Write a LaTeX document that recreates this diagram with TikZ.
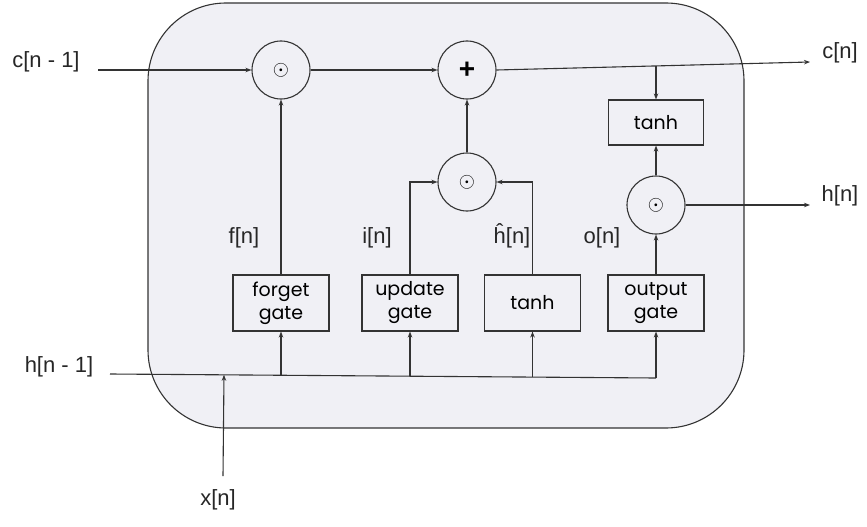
\documentclass[tikz,border=0pt]{standalone}
\usepackage{fontspec}
\setmainfont{Liberation Sans}
\newfontfamily\boxfont{Poppins}
\usetikzlibrary{arrows.meta}
\definecolor{bgc}{HTML}{F0F0F5}
\definecolor{ln}{HTML}{333333}
\begin{document}
\begin{tikzpicture}[x=1pt,y=-1pt,
  every node/.style={inner sep=0},
  lbl/.style={font=\fontsize{22}{26}\selectfont, text=black!85},
  op/.style={circle,draw=ln,line width=1.1,minimum size=58,font=\fontsize{20}{20}\selectfont},
  blk/.style={draw=ln,line width=1.1,minimum width=96,minimum height=56,align=center,
              font=\boxfont\fontsize{19}{23}\selectfont},
  wire/.style={draw=ln,line width=1.1},
  arr/.style={wire,-{Stealth[length=6,width=4.5]}}]
\useasboundingbox (0,0) rectangle (867,527);
\node[draw=ln,line width=1.1,fill=bgc,rounded corners=78,minimum width=596,minimum height=425] (cell) at (446,215.5) {};

% operators
\node[op] (m1) at (281,70) {$\odot$};
\node[op,font=\bfseries\fontsize{28}{28}\selectfont] (add) at (467,70) {+};
\node[op] (m2) at (467,182) {$\odot$};
\node[op] (m3) at (656,205) {$\odot$};

% blocks
\node[blk,minimum width=95,minimum height=45] (th2) at (656,122.5) {tanh};
\node[blk] (fg) at (281,303) {forget\\gate};
\node[blk] (ug) at (410,303) {update\\gate};
\node[blk] (tb) at (532.5,303) {tanh};
\node[blk] (og) at (656,303) {output\\gate};

% labels
\node[lbl] (lcin) at (46,62) {c[n - 1]};
\node[lbl] (lcout) at (840,53) {c[n]};
\node[lbl] (lhout) at (840,196) {h[n]};
\node[lbl] (lhin) at (59,367) {h[n - 1]};
\node[lbl] (lx) at (218,500) {x[n]};
\node[lbl] (lf) at (244,238) {f[n]};
\node[lbl] (li) at (377,238) {i[n]};
\node[lbl] (lh) at (512,236) {ĥ[n]};
\node[lbl] (lo) at (602,238) {o[n]};

% coordinates
\coordinate (cin) at (98,70);
\coordinate (cout) at (810,62);
\coordinate (cbr) at (656,66);
\coordinate (hout) at (810,205);
\coordinate (hin) at (110,374);
\coordinate (hend) at (656,378);
\coordinate (t1) at (281,375.3);
\coordinate (t2) at (410,376.2);
\coordinate (t3) at (532.5,377.1);
\coordinate (xin) at (223,476);
\coordinate (xj) at (224,374.8);

% cell state
\draw[arr] (cin) -- (m1.west);
\draw[arr] (m1.east) -- (add.west);
\draw[arr] (add.east) -- (cout);
\draw[arr] (cbr) -- (th2.north);
\draw[arr] (m2.north) -- (add.south);
\draw[arr] (m3.north) -- (th2.south);
\draw[arr] (m3.east) -- (hout);

% gates
\draw[arr] (fg.north) -- (m1.south);
\draw[arr] (ug.north) |- (m2.west);
\draw[arr] (tb.north) |- (m2.east);
\draw[arr] (og.north) -- (m3.south);

% inputs
\draw[wire] (hin) -- (hend);
\draw[arr] (t1) -- (fg.south);
\draw[arr] (t2) -- (ug.south);
\draw[arr] (t3) -- (tb.south);
\draw[arr] (hend) -- (og.south);
\draw[arr] (xin) -- (xj);
\end{tikzpicture}
\end{document}
